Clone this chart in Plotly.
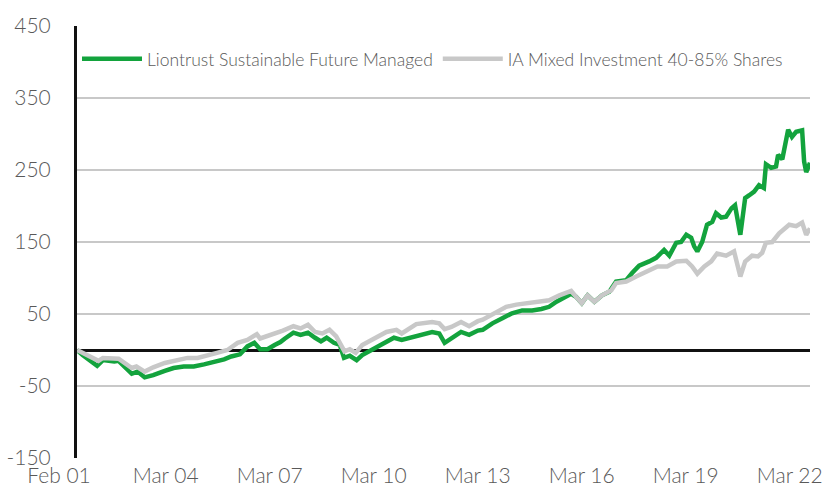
import plotly.graph_objects as go

# Liontrust Sustainable Future Managed (cumulative % return)
green_dates = [
    "2001-02-01", "2001-04-01", "2001-09-01", "2001-11-01", "2002-03-01", "2002-04-15",
    "2002-09-01", "2002-11-01", "2003-01-15", "2003-04-15", "2003-08-15", "2003-11-15",
    "2004-03-01", "2004-06-15", "2004-10-01", "2005-02-15", "2005-05-01", "2005-07-15",
    "2005-10-15", "2006-01-01", "2006-03-15", "2006-05-15", "2006-08-01", "2006-10-15",
    "2006-12-15", "2007-02-01", "2007-05-01", "2007-07-15", "2007-10-01", "2007-12-15",
    "2008-02-15", "2008-04-15", "2008-07-01", "2008-09-01", "2008-10-15", "2008-12-15",
    "2009-02-25", "2009-04-25", "2009-07-01", "2009-09-25", "2009-12-15", "2010-03-25",
    "2010-06-15", "2010-10-01", "2011-01-15", "2011-05-01", "2011-07-15", "2011-09-10",
    "2011-11-20", "2012-03-01", "2012-05-25", "2012-08-25", "2012-10-15", "2013-01-25",
    "2013-05-10", "2013-08-20", "2013-12-05", "2014-03-20", "2014-06-25", "2014-09-15",
    "2014-12-01", "2015-03-15", "2015-05-05", "2015-06-25", "2015-08-25", "2015-10-25",
    "2016-01-05", "2016-03-25", "2016-06-10", "2016-08-20", "2016-12-05", "2017-02-05",
    "2017-04-20", "2017-08-04", "2017-10-16", "2018-01-08", "2018-03-04", "2018-05-16",
    "2018-07-06", "2018-08-30", "2018-10-20", "2018-11-21", "2018-12-24", "2019-02-13",
    "2019-04-05", "2019-05-30", "2019-07-09", "2019-09-02", "2019-10-23", "2019-12-20",
    "2020-01-25", "2020-03-21", "2020-05-11", "2020-06-24", "2020-08-14", "2020-10-04",
    "2020-11-24", "2020-12-16", "2021-02-09", "2021-04-01", "2021-04-23", "2021-06-06",
    "2021-08-07", "2021-09-16", "2021-10-30", "2022-01-01", "2022-01-22", "2022-02-13",
    "2022-03-25",
]
green_values = [
    0, -7, -22, -14, -16, -15,
    -33, -30, -38, -35, -29, -25,
    -23, -23, -20, -16, -13, -9,
    -6, 5, 10, 1, 1, 7,
    11, 16, 24, 21, 24, 17,
    12, 17, 10, 7, -11, -8,
    -14, -7, -2, 4, 9, 17,
    14, 18, 21, 25, 23, 10,
    16, 25, 21, 27, 28, 37,
    44, 51, 55, 55, 57, 60,
    67, 75, 78, 74, 65, 76,
    67, 76, 81, 95, 97, 107,
    117, 123, 128, 139, 131, 149,
    150, 160, 156, 144, 137, 150,
    174, 178, 190, 184, 185, 197,
    201, 160, 211, 215, 220, 229,
    225, 258, 253, 255, 271, 265,
    306, 296, 303, 305, 262, 247,
    260,
]

# IA Mixed Investment 40-85% Shares (cumulative % return)
grey_dates = [
    "2001-02-01", "2001-04-01", "2001-09-15", "2001-11-01", "2002-03-01", "2002-04-15",
    "2002-09-01", "2002-10-20", "2003-01-15", "2003-04-15", "2003-08-15", "2003-11-15",
    "2004-04-10", "2004-07-25", "2004-11-10", "2005-02-15", "2005-06-05", "2005-09-20",
    "2006-01-01", "2006-04-10", "2006-05-15", "2006-09-10", "2007-01-10", "2007-05-01",
    "2007-07-15", "2007-10-01", "2007-12-15", "2008-03-01", "2008-05-15", "2008-07-25",
    "2008-10-20", "2008-12-15", "2009-02-15", "2009-04-25", "2009-07-01", "2009-10-01",
    "2010-01-05", "2010-04-20", "2010-06-15", "2010-11-15", "2011-03-01", "2011-05-01",
    "2011-07-15", "2011-09-10", "2011-11-20", "2012-03-01", "2012-05-25", "2012-08-25",
    "2012-10-15", "2013-03-05", "2013-06-20", "2013-10-05", "2014-01-30", "2014-06-01",
    "2014-09-15", "2015-01-01", "2015-05-05", "2015-06-25", "2015-08-25", "2015-10-25",
    "2016-01-05", "2016-03-25", "2016-07-01", "2016-08-20", "2016-12-05", "2017-03-20",
    "2017-07-05", "2017-10-30", "2018-02-10", "2018-05-16", "2018-08-30", "2018-10-30",
    "2018-12-24", "2019-03-08", "2019-05-20", "2019-07-20", "2019-10-23", "2020-01-15",
    "2020-03-21", "2020-05-11", "2020-07-23", "2020-09-23", "2020-11-06", "2020-12-16",
    "2021-02-20", "2021-05-04", "2021-08-18", "2021-10-30", "2022-01-01", "2022-02-13",
    "2022-03-25",
]
grey_values = [
    0, -4, -15, -11, -11, -12,
    -25, -23, -30, -24, -18, -15,
    -11, -11, -8, -4, 0, 10,
    14, 22, 16, 21, 27, 33,
    30, 35, 25, 23, 28, 19,
    -2, 1, -4, 7, 12, 19,
    25, 28, 23, 36, 38, 39,
    37, 29, 32, 39, 33, 40,
    42, 53, 60, 63, 65, 67,
    69, 76, 82, 74, 65, 76,
    67, 76, 83, 93, 95, 102,
    109, 116, 116, 123, 124, 116,
    106, 116, 123, 134, 131, 137,
    102, 123, 131, 130, 135, 149,
    150, 162, 174, 172, 177, 160,
    169,
]

y_ticks = [-150, -50, 50, 150, 250, 350, 450]
y_tick_labels = ["-150", "-50", "50", "150", "250", "350", "450"]
x_tick_dates = ["2001-02-01", "2004-03-01", "2007-03-01", "2010-03-01",
                "2013-03-01", "2016-03-01", "2019-03-01", "2022-03-01"]
x_tick_labels = ["Feb 01", "Mar 04", "Mar 07", "Mar 10",
                 "Mar 13", "Mar 16", "Mar 19", "Mar 22"]

GREEN = "#13a33d"
GREY = "#c8c8c8"
FONT = "Lato, 'Open Sans', sans-serif"
TXT = "#595959"

fig = go.Figure()
fig.add_trace(go.Scatter(
    x=green_dates, y=green_values, mode="lines",
    name="Liontrust Sustainable Future Managed",
    line=dict(color=GREEN, width=4.5), legendrank=1,
))
fig.add_trace(go.Scatter(
    x=grey_dates, y=grey_values, mode="lines",
    name="IA Mixed Investment 40-85% Shares",
    line=dict(color=GREY, width=4.5), legendrank=2,
))

fig.update_layout(
    width=825, height=486,
    margin=dict(l=77, r=15, t=26, b=28),
    paper_bgcolor="white", plot_bgcolor="white",
    font=dict(family=FONT, color=TXT, weight=300),
    showlegend=True,
    legend=dict(
        orientation="h", x=0.0, y=0.924, xanchor="left", yanchor="middle",
        bgcolor="rgba(0,0,0,0)", font=dict(size=17.5, color=TXT, family=FONT, weight=300),
        itemwidth=60,
    ),
    xaxis=dict(
        type="date", range=["2001-02-01", "2022-03-25"], automargin=False,
        tickvals=x_tick_dates, ticktext=x_tick_labels,
        showgrid=False, zeroline=False, showline=False, ticks="",
        tickfont=dict(size=21, color=TXT, family=FONT, weight=300),
        ticklabelshift=-18, ticklabelstandoff=3,
    ),
    yaxis=dict(
        range=[-150, 450], tickvals=y_ticks, ticktext=y_tick_labels, automargin=False,
        showgrid=True, gridcolor=GREY, gridwidth=2,
        zeroline=True, zerolinecolor="#111111", zerolinewidth=3,
        showline=True, linecolor="#111111", linewidth=3,
        ticks="", tickfont=dict(size=21, color=TXT, family=FONT, weight=300),
        ticklabelstandoff=19,
    ),
)

fig.write_html("out.html", config={"displayModeBar": False},
               post_script="document.body.style.margin='0';")
